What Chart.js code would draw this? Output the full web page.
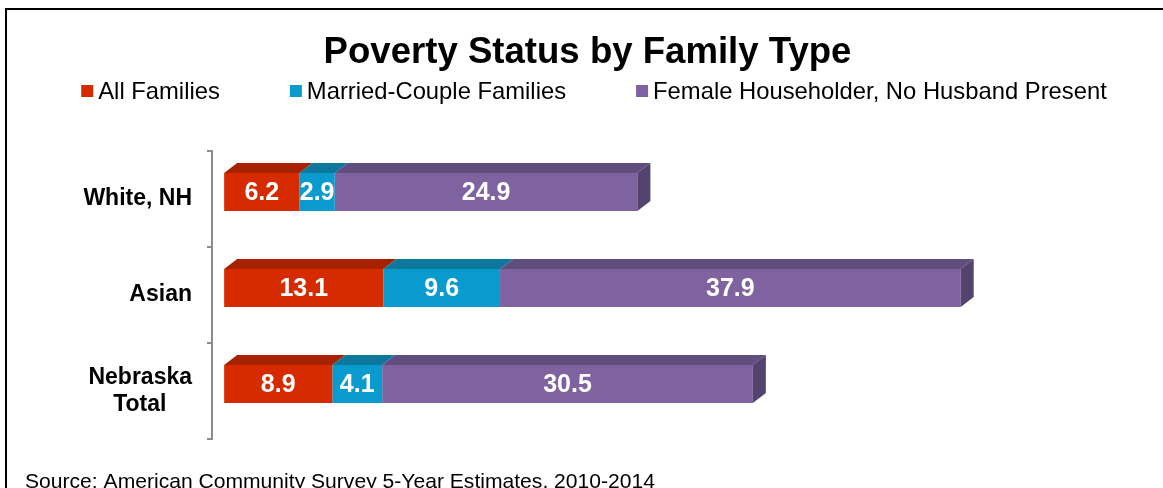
<!DOCTYPE html>
<html>
<head>
<meta charset="utf-8">
<script src="https://cdn.jsdelivr.net/npm/chart.js@4.4.0/dist/chart.umd.min.js"></script>
<style>
html,body{margin:0;padding:0;background:#fff;}
#wrap{position:relative;width:1163px;height:488px;overflow:hidden;}
canvas{display:block;}
</style>
</head>
<body>
<div id="wrap"><canvas id="c" width="1163" height="488"></canvas></div>
<script>
// ---- data ----
const categories = ['White, NH', 'Asian', ['Nebraska', 'Total\u00a0\u00a0\u00a0\u00a0']];
const seriesNames = ['All Families', 'Married-Couple Families', 'Female Householder, No Husband Present'];
const allFamilies = [6.2, 13.1, 8.9];
const marriedCouple = [2.9, 9.6, 4.1];
const femaleHouseholder = [24.9, 37.9, 30.5];
const titleText = 'Poverty Status by Family Type';
const sourceText = 'Source: American Community Survey 5-Year Estimates, 2010-2014';

// ---- styles ----
const FONT = '"Liberation Sans", Arial, Helvetica, sans-serif';
const frontColors = ['#D62B00', '#0A9BCE', '#7F63A1'];
const topColors = ['#A52100', '#0B789C', '#614D80'];
const sideColor = '#54426F';
const DEPTH_X = 13, DEPTH_Y = 10, SHIFT_Y = -7;

const seriesValues = [allFamilies, marriedCouple, femaleHouseholder];

const bar3d = {
  id: 'bar3d',
  beforeDatasetsDraw(chart) {
    chart.ctx.save();
    chart.ctx.translate(0, SHIFT_Y);
  },
  afterDatasetsDraw(chart) {
    const ctx = chart.ctx;
    const n = chart.data.datasets.length;
    for (let d = 0; d < n; d++) {
      const meta = chart.getDatasetMeta(d);
      meta.data.forEach((el) => {
        const x0 = Math.min(el.base, el.x), x1 = Math.max(el.base, el.x);
        const top = el.y - el.height / 2, bottom = el.y + el.height / 2;
        ctx.fillStyle = topColors[d];
        ctx.beginPath();
        ctx.moveTo(x0, top);
        ctx.lineTo(x0 + DEPTH_X, top - DEPTH_Y);
        ctx.lineTo(x1 + DEPTH_X, top - DEPTH_Y);
        ctx.lineTo(x1, top);
        ctx.closePath();
        ctx.fill();
        if (d === n - 1) {
          ctx.fillStyle = sideColor;
          ctx.beginPath();
          ctx.moveTo(x1, top);
          ctx.lineTo(x1 + DEPTH_X, top - DEPTH_Y);
          ctx.lineTo(x1 + DEPTH_X, bottom - DEPTH_Y);
          ctx.lineTo(x1, bottom);
          ctx.closePath();
          ctx.fill();
        }
      });
    }
    // value labels
    ctx.fillStyle = '#FFFFFF';
    ctx.font = 'bold 25px ' + FONT;
    ctx.textAlign = 'center';
    ctx.textBaseline = 'middle';
    for (let d = 0; d < n; d++) {
      const meta = chart.getDatasetMeta(d);
      meta.data.forEach((el, i) => {
        const v = chart.data.datasets[d].data[i];
        ctx.fillText(v.toFixed(1), (el.base + el.x) / 2, el.y + 1);
      });
    }
    ctx.restore();
  },
  afterDraw(chart) {
    const ctx = chart.ctx;
    ctx.save();
    // frame
    ctx.fillStyle = '#000';
    ctx.fillRect(5, 8, 1158, 2);
    ctx.fillRect(5, 8, 2, 480);
    // title
    ctx.font = 'bold 36.6px ' + FONT;
    ctx.textAlign = 'center';
    ctx.textBaseline = 'alphabetic';
    ctx.fillText(titleText, 587.5, 63);
    // legend
    ctx.font = '23.8px ' + FONT;
    ctx.textAlign = 'left';
    const box = 12, gapText = 5, gapItem = 70;
    const widths = chart.data.datasets.map(ds => box + gapText + ctx.measureText(ds.label).width);
    const total = widths.reduce((a, b) => a + b, 0) + gapItem * (widths.length - 1);
    let x = 594 - total / 2;
    chart.data.datasets.forEach((ds, i) => {
      ctx.fillStyle = frontColors[i];
      ctx.fillRect(x, 85, box, box);
      ctx.fillStyle = '#000';
      ctx.fillText(ds.label, x + box + gapText, 99);
      x += widths[i] + gapItem;
    });
    // source
    ctx.font = '21.1px ' + FONT;
    ctx.fillText(sourceText, 25, 488);
    ctx.restore();
  }
};

new Chart(document.getElementById('c'), {
  type: 'bar',
  data: {
    labels: categories,
    datasets: seriesValues.map((vals, i) => ({
      label: seriesNames[i],
      data: vals,
      backgroundColor: frontColors[i],
      borderWidth: 0,
      barPercentage: 0.396,
      categoryPercentage: 1.0
    }))
  },
  options: {
    indexAxis: 'y',
    responsive: false,
    animation: false,
    devicePixelRatio: 1,
    layout: { padding: { left: 0, right: 161, top: 151, bottom: 49 } },
    plugins: {
      legend: { display: false },
      title: { display: false },
      tooltip: { enabled: false }
    },
    scales: {
      x: {
        type: 'linear',
        stacked: true,
        min: -1,
        max: 64,
        display: false
      },
      y: {
        type: 'category',
        stacked: true,
        offset: true,
        afterFit(scale) { scale.width = 212; },
        grid: {
          offset: true,
          drawOnChartArea: false,
          drawTicks: true,
          tickLength: 5,
          color: '#8C8C8C',
          lineWidth: 2
        },
        border: { display: true, color: '#8C8C8C', width: 2 },
        ticks: {
          padding: 15,
          color: '#000',
          font: { family: FONT, size: 23, weight: 'bold', lineHeight: 1.2 }
        }
      }
    }
  },
  plugins: [bar3d]
});
</script>
</body>
</html>
